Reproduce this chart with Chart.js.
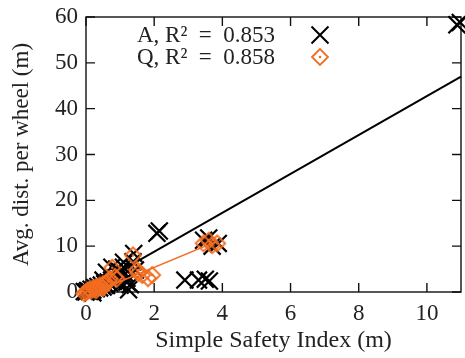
<!DOCTYPE html>
<html>
<head>
<meta charset="utf-8">
<script src="https://cdn.jsdelivr.net/npm/chart.js@4.4.0/dist/chart.umd.min.js"></script>
<style>
html, body { margin: 0; padding: 0; background: #fff; overflow: hidden; }
canvas { display: block; }
</style>
</head>
<body>
<canvas id="myChart" width="465" height="358"></canvas>
<script>
// series labels (legend)
var seriesLabels = ["A, R\u00b2\u2002=\u20020.853", "Q, R\u00b2\u2002=\u20020.858"];

// A: black crosses
var aX = [0.0, 0.05, 0.1, 0.15, 0.2, 0.25, 0.3, 0.35, 0.4, 0.45, 0.5, 0.55, 0.6, 0.65, 0.7, 0.75, 0.8, 0.85, 0.9, 0.95, 1.0, 1.05, 1.1, 1.15, 1.2, 1.25, 1.3, 1.38, 1.45, 0.9, 0.6, 0.2, -0.05, 0.76, 1.1, 1.2, 1.0, 0.5, 1.4,
          2.08, 2.15, 3.45, 3.6, 3.88, 3.7, 2.9, 3.3, 3.5, 3.62, 10.88, 10.98];
var aY = [0.0, 0.3, 0.1, 0.6, 0.4, 1.0, 0.7, 1.2, 0.9, 1.5, 1.1, 1.8, 1.4, 2.2, 1.9, 2.6, 2.3, 3.0, 2.7, 3.6, 4.4, 3.2, 5.4, 4.0, 2.2, 0.5, 1.6, 6.6, 4.8, 5.0, 4.3, -0.2, 0.1, 5.4, 6.5, 3.0, 1.5, 2.6, 8.4,
          12.8, 13.3, 11.3, 11.8, 10.6, 10.0, 2.6, 2.6, 2.8, 2.4, 58.3, 58.8];

// Q: orange diamonds
var qX = [0.0, 0.05, 0.1, 0.15, 0.2, 0.25, 0.3, 0.35, 0.4, 0.45, 0.5, 0.55, 0.6, 0.65, 0.7, 0.77, 0.85, 0.9, 1.38, 1.5, 1.53, 1.65, 1.82, 1.94, 3.45, 3.6, 3.85, 3.7, 0.3, 0.5, -0.05];
var qY = [0.0, 0.2, 0.5, 0.3, 0.8, 0.6, 1.1, 0.9, 1.4, 1.2, 1.7, 1.5, 2.0, 2.4, 2.8, 5.3, 3.3, 2.9, 8.0, 4.8, 4.1, 3.7, 3.0, 3.7, 10.6, 11.2, 10.6, 10.2, 0.4, 0.9, -0.3];

// linear fits
var fitAX = [0, 11];
var fitAY = [0.3, 47];
var fitQX = [0, 3.85];
var fitQY = [-0.8, 11.1];

var xTickStep = 2;
var yTickStep = 10;

function pts(xs, ys) {
  return xs.map(function (x, i) { return { x: x, y: ys[i] }; });
}

var orange = "#f26d21";

function diamondDot(color, r) {
  var c = document.createElement("canvas");
  var s = 2 * r + 4;
  c.width = s; c.height = s;
  var g = c.getContext("2d");
  var m = s / 2;
  g.strokeStyle = color;
  g.lineWidth = 1.8;
  g.beginPath();
  g.moveTo(m - r, m); g.lineTo(m, m - r); g.lineTo(m + r, m); g.lineTo(m, m + r);
  g.closePath();
  g.stroke();
  g.fillStyle = color;
  g.beginPath();
  g.arc(m, m, 1.3, 0, Math.PI * 2);
  g.fill();
  return c;
}
var diamondImg = diamondDot(orange, 8);

var fontFam = "'Liberation Serif', 'Times New Roman', serif";

// box with inward ticks on all sides
var framePlugin = {
  id: "frame",
  beforeDatasetsDraw: function (chart) {
    var ctx = chart.ctx, a = chart.chartArea;
    var xs = chart.scales.x, ys = chart.scales.y;
    var tl = 9;
    ctx.save();
    ctx.strokeStyle = "#111";
    ctx.lineWidth = 1.4;
    ctx.strokeRect(a.left, a.top, a.right - a.left, a.bottom - a.top);
    ctx.beginPath();
    xs.ticks.forEach(function (t) {
      var px = xs.getPixelForValue(t.value);
      ctx.moveTo(px, a.bottom); ctx.lineTo(px, a.bottom - tl);
      ctx.moveTo(px, a.top); ctx.lineTo(px, a.top + tl);
    });
    ys.ticks.forEach(function (t) {
      var py = ys.getPixelForValue(t.value);
      ctx.moveTo(a.left, py); ctx.lineTo(a.left + tl, py);
      ctx.moveTo(a.right, py); ctx.lineTo(a.right - tl, py);
    });
    ctx.stroke();
    ctx.restore();
  }
};

// legend: text first, marker to the right
var legendPlugin = {
  id: "sideLegend",
  afterDraw: function (chart) {
    var ctx = chart.ctx, a = chart.chartArea;
    var tx = a.left + 51, mx = a.left + 234;
    var rows = [a.top + 18, a.top + 40];
    ctx.save();
    ctx.font = "23px " + fontFam;
    ctx.fillStyle = "#222";
    ctx.textBaseline = "middle";
    ctx.textAlign = "left";
    seriesLabels.forEach(function (lab, i) {
      ctx.fillText(lab, tx, rows[i] + 1);
    });
    // A marker
    var r = 12 * Math.SQRT1_2;
    ctx.strokeStyle = "#000";
    ctx.lineWidth = 2;
    ctx.beginPath();
    ctx.moveTo(mx - r, rows[0] - r); ctx.lineTo(mx + r, rows[0] + r);
    ctx.moveTo(mx + r, rows[0] - r); ctx.lineTo(mx - r, rows[0] + r);
    ctx.stroke();
    // Q marker
    ctx.drawImage(diamondImg, mx - diamondImg.width / 2, rows[1] - diamondImg.height / 2);
    ctx.restore();
  }
};

var chart = document.getElementById("myChart");
var myChart = new Chart(chart, {
  type: "scatter",
  data: {
    datasets: [
      {
        label: "Q fit",
        data: pts(fitQX, fitQY),
        showLine: true,
        borderColor: orange,
        borderWidth: 1.6,
        pointRadius: 0,
        clip: false,
        order: 0
      },
      {
        label: seriesLabels[1],
        data: pts(qX, qY),
        pointStyle: diamondImg,
        clip: false,
        order: 1
      },
      {
        label: "A fit",
        data: pts(fitAX, fitAY),
        showLine: true,
        borderColor: "#000",
        borderWidth: 2,
        pointRadius: 0,
        clip: false,
        order: 2
      },
      {
        label: seriesLabels[0],
        data: pts(aX, aY),
        pointStyle: "crossRot",
        pointRadius: 12,
        pointBorderWidth: 2.2,
        borderColor: "#000",
        backgroundColor: "#000",
        clip: false,
        order: 3
      }
    ]
  },
  options: {
    responsive: false,
    animation: false,
    devicePixelRatio: 1,
    layout: { autoPadding: false, padding: { top: 17, right: 4, left: 0, bottom: 0 } },
    plugins: {
      legend: { display: false },
      tooltip: { enabled: false }
    },
    scales: {
      x: {
        type: "linear",
        min: 0,
        max: 11,
        grid: { display: false, drawTicks: false },
        border: { display: false },
        ticks: { stepSize: xTickStep, includeBounds: false, padding: 8, color: "#222", font: { family: fontFam, size: 23 } },
        title: { display: true, text: "Simple Safety Index (m)", color: "#222", padding: { top: 0, bottom: 3 }, font: { family: fontFam, size: 24, lineHeight: 1.2 } },
        afterFit: function (s) { s.height = 66; s.paddingLeft = 0; s.paddingRight = 0; }
      },
      y: {
        type: "linear",
        min: 0,
        max: 60,
        grid: { display: false, drawTicks: false },
        border: { display: false },
        ticks: { stepSize: yTickStep, includeBounds: false, padding: 8, color: "#222", font: { family: fontFam, size: 23 } },
        title: { display: true, text: "Avg. dist. per wheel (m)", color: "#222", padding: { top: 8, bottom: 0 }, font: { family: fontFam, size: 23, lineHeight: 1.2 } },
        afterFit: function (s) { s.width = 86; s.paddingTop = 0; s.paddingBottom = 0; }
      }
    }
  },
  plugins: [framePlugin, legendPlugin]
});
</script>
</body>
</html>
